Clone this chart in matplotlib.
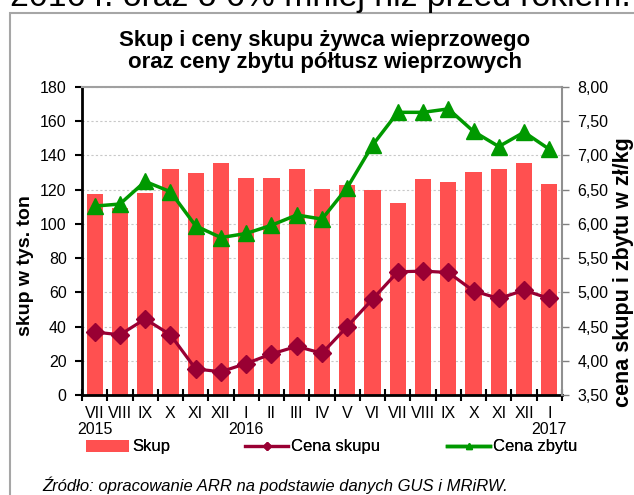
import matplotlib
matplotlib.use("Agg")
import matplotlib.pyplot as plt
from matplotlib.lines import Line2D
from matplotlib.patches import Patch, Rectangle
from matplotlib.ticker import FuncFormatter

plt.rcParams['font.family'] = ['Liberation Sans', 'DejaVu Sans']

# dane
miesiace = ['VII', 'VIII', 'IX', 'X', 'XI', 'XII', 'I', 'II', 'III', 'IV',
            'V', 'VI', 'VII', 'VIII', 'IX', 'X', 'XI', 'XII', 'I']
lata_poz = [0, 6, 18]
lata = ['2015', '2016', '2017']
skup = [117.5, 109.5, 118, 132, 129.5, 135.5, 127, 127, 132, 120.5,
        123, 120, 112, 126, 124.5, 130.5, 132, 135.5, 123.5]
cena_skupu = [4.42, 4.38, 4.61, 4.38, 3.88, 3.84, 3.96, 4.10, 4.21, 4.11,
              4.50, 4.90, 5.30, 5.31, 5.29, 5.02, 4.91, 5.03, 4.91]
cena_zbytu = [6.26, 6.29, 6.62, 6.47, 5.97, 5.80, 5.86, 5.98, 6.13, 6.07,
              6.53, 7.15, 7.63, 7.63, 7.68, 7.35, 7.13, 7.34, 7.09]

W, H = 634, 495
x = list(range(len(miesiace)))
fs = 11.5  # etykiety osi

fig = plt.figure(figsize=(W / 100, H / 100), dpi=100)

# ramka wykresu (ucięta przez krawędź)
fig.add_artist(Rectangle((9.5 / W, -0.1), 2, (H - 12.5) / H + 0.1,
                         transform=fig.transFigure, fill=False,
                         edgecolor='#a6a6a6', lw=1.5))

# tekst ucięty u góry
fig.text(10 / W, 1 - 6 / H, '2016 r. oraz o 6% mniej niż przed rokiem.',
         fontsize=24.3, va='baseline', ha='left')

ax = fig.add_axes([82 / W, 1 - 395 / H, 480 / W, 308 / H])
ax.bar(x, skup, width=0.64, color='#FF5050', zorder=2)
ax.set_xlim(-0.5, len(miesiace) - 0.5)
ax.set_ylim(0, 180)
ax.set_yticks(range(0, 181, 20))
ax.yaxis.grid(True, linestyle=(0, (2, 2)), color='#c8c8c8', lw=0.8)
ax.set_axisbelow(True)

ax.set_xticks([i - 0.5 for i in range(len(miesiace) + 1)])
ax.set_xticklabels([])
ax.set_xticks(x, minor=True)
ax.set_xticklabels(miesiace, minor=True)
ax.tick_params(axis='x', which='major', direction='inout', length=8, width=1.5)
ax.tick_params(axis='x', which='minor', length=0, pad=8, labelsize=fs)
ax.tick_params(axis='y', direction='out', length=5, width=1.5, pad=6, labelsize=fs)

for p, r in zip(lata_poz, lata):
    ax.text(p, -0.1136, r, transform=ax.get_xaxis_transform(),
            ha='center', va='center', fontsize=fs)

ax.spines['left'].set_linewidth(2)
ax.spines['bottom'].set_linewidth(2)
ax.spines['top'].set_color('#a0a0a0')
ax.spines['top'].set_linewidth(1.5)
ax.spines['right'].set_visible(False)

ax2 = ax.twinx()
ax2.plot(x, cena_skupu, color='#990033', lw=2.3, marker='D', markersize=9)
ax2.plot(x, cena_zbytu, color='#009900', lw=2.5, marker='^', markersize=11)
ax2.set_ylim(3.5, 8.0)
ax2.set_yticks([3.5 + 0.5 * i for i in range(10)])
ax2.yaxis.set_major_formatter(FuncFormatter(lambda v, p: f'{v:.2f}'.replace('.', ',')))
ax2.tick_params(axis='y', direction='out', length=5, width=1, color='#808080',
                pad=6, labelsize=fs)
for s in ['left', 'bottom', 'top']:
    ax2.spines[s].set_visible(False)
ax2.spines['right'].set_color('#909090')
ax2.spines['right'].set_linewidth(1.5)

# tytuł i opisy osi
fig.text(325 / W, 1 - 46 / H, 'Skup i ceny skupu żywca wieprzowego',
         ha='center', va='baseline', fontsize=16, fontweight='bold')
fig.text(325 / W, 1 - 68 / H, 'oraz ceny zbytu półtusz wieprzowych',
         ha='center', va='baseline', fontsize=16, fontweight='bold')
fig.text(26 / W, 1 - 266 / H, 'skup w tys. ton', rotation=90,
         ha='center', va='center', fontsize=14, fontweight='bold')
fig.text(623 / W, 1 - 272 / H, 'cena skupu i zbytu w zł/kg', rotation=90,
         ha='center', va='center', fontsize=15.5, fontweight='bold')

# legenda - trzy wpisy rozstawione jak w oryginale
uchwyty = [Patch(facecolor='#FF5050'),
           Line2D([], [], color='#990033', lw=2.3, marker='D', markersize=4),
           Line2D([], [], color='#009900', lw=2.5, marker='^', markersize=5)]
nazwy = ['Skup', 'Cena skupu', 'Cena zbytu']
pozycje = [86, 245, 447]
for h, n, px in zip(uchwyty, nazwy, pozycje):
    leg = fig.legend([h], [n], loc='center left',
                     bbox_to_anchor=(px / W, 1 - 447 / H),
                     frameon=False, handlelength=2.6, handletextpad=0.15,
                     borderpad=0, borderaxespad=0, fontsize=12, numpoints=1)
    fig.add_artist(leg)

fig.text(42 / W, 1 - 485 / H,
         'Źródło: opracowanie ARR na podstawie danych GUS i MRiRW.',
         style='italic', fontsize=12, va='center', ha='left')

fig.savefig('out.png', dpi=100)
